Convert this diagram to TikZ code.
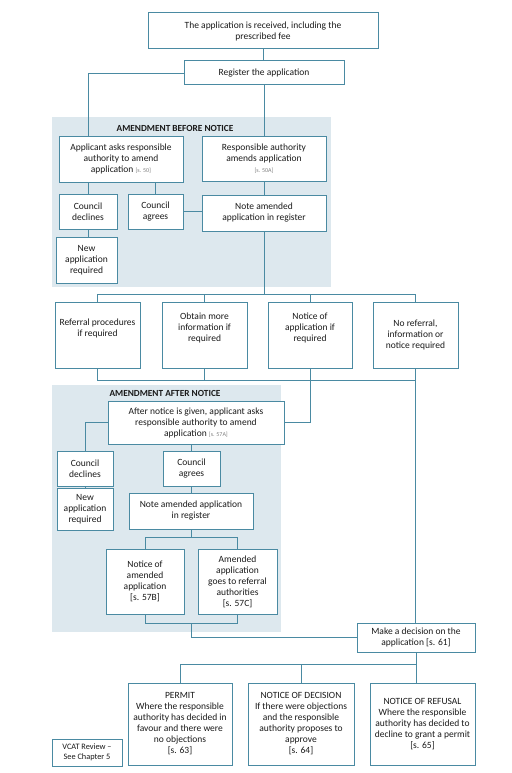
\documentclass[tikz,border=0pt]{standalone}
\usepackage{fontspec}
\setmainfont{Carlito}
\definecolor{bc}{HTML}{4A8AA2}
\definecolor{shadebg}{HTML}{DDE8EE}
\definecolor{txt}{HTML}{1A1A1A}
\definecolor{ref}{HTML}{808080}
\tikzset{
  box/.style={draw=bc, fill=white, line width=1pt, align=center, inner sep=1pt,
    text=txt, font=\fontsize{9.5}{11}\selectfont},
  ln/.style={draw=bc, line width=0.9pt},
  ttl/.style={font=\bfseries\fontsize{9.3}{10}\selectfont, text=txt},
}
\newcommand\sref[1]{{\fontsize{6}{6.5}\selectfont\color{ref}#1}}
\begin{document}
\begin{tikzpicture}[x=1pt,y=-1pt]
\useasboundingbox (0,0) rectangle (511,773);
% shaded regions
\fill[shadebg] (52,117) rectangle (331,287);
\fill[shadebg] (52,385) rectangle (281,632);
\node[ttl] (tA) at (175,128) {AMENDMENT BEFORE NOTICE};
\node[ttl] (tB) at (165,393) {AMENDMENT AFTER NOTICE};
% top
\node[box, minimum width=230, minimum height=36] (recv) at (263,31) {The application is received, including the\\prescribed fee};
\node[box, minimum width=160, minimum height=24] (reg) at (264,73) {Register the application};
% amendment before notice
\node[box, minimum width=124, minimum height=46] (applicant) at (121,159) {Applicant asks responsible\\authority to amend\\application \sref{[s. 50]}};
\node[box, minimum width=124, minimum height=45] (raamends) at (264,158.5) {Responsible authority\\amends application\\\sref{[s. 50A]}};
\node[box, minimum width=58, minimum height=35] (cdeclA) at (88,211.5) {Council\\declines};
\node[box, minimum width=55, minimum height=35] (cagreeA) at (155.5,211.5) {Council\\agrees};
\node[box, minimum width=124, minimum height=36] (noteA) at (264,213) {Note amended\\application in register};
\node[box, minimum width=61, minimum height=46] (newA) at (86.5,260) {New\\application\\required};
% middle row
\node[box, minimum width=85, minimum height=66] (referral) at (97.5,335) {Referral procedures\\if required\\[4pt]};
\node[box, minimum width=85, minimum height=66] (obtain) at (204.5,335) {Obtain more\\information if\\required\\[4pt]};
\node[box, minimum width=84, minimum height=66] (notice) at (310,335) {Notice of\\application if\\required\\[4pt]};
\node[box, minimum width=85, minimum height=66] (noref) at (415.5,335) {No referral,\\information or\\notice required};
% amendment after notice
\node[box, minimum width=176, minimum height=43] (afterN) at (196,422.5) {After notice is given, applicant asks\\responsible authority to amend\\application \sref{[s. 57A]}};
\node[box, minimum width=56, minimum height=35] (cdeclB) at (85,468.5) {Council\\declines};
\node[box, minimum width=57, minimum height=35] (cagreeB) at (191.5,468.5) {Council\\agrees};
\node[box, minimum width=56, minimum height=42] (newB) at (85,509) {New\\application\\required};
\node[box, minimum width=124, minimum height=36] (noteB) at (191,511) {Note amended application\\in register};
\node[box, minimum width=78, minimum height=65] (noticeAm) at (145,581.5) {Notice of\\amended\\application\\{[s. 57B]}};
\node[box, minimum width=79, minimum height=65] (amendedRef) at (237.5,581.5) {Amended\\application\\goes to referral\\authorities\\{[s. 57C]}};
% decision
\node[box, minimum width=118, minimum height=29] (decide) at (416,637.5) {Make a decision on the\\application [s. 61]};
\node[box, minimum width=104, minimum height=82] (permit) at (180,724) {PERMIT\\Where the responsible\\authority has decided in\\favour and there were\\no objections\\{[s. 63]}};
\node[box, minimum width=106, minimum height=82] (nod) at (301,724) {NOTICE OF DECISION\\If there were objections\\and the responsible\\authority proposes to\\approve\\{[s. 64]}};
\node[box, minimum width=105, minimum height=82] (refusal) at (422.5,724) {NOTICE OF REFUSAL\\Where the responsible\\authority has decided to\\decline to grant a permit\\{[s. 65]}};
\node[box, minimum width=70, minimum height=27, font=\fontsize{8.3}{9.8}\selectfont] (vcat) at (87,752.5) {VCAT Review --\\See Chapter 5};
% bus coordinates
\coordinate (busA) at (0,294);
\coordinate (busB) at (0,380);
\coordinate (brA) at (0,537);
\coordinate (brB) at (0,623);
\coordinate (busC) at (0,664);
% connectors
\draw[ln] (recv.south) -- (recv.south |- reg.north);
\draw[ln] (reg.west) -| (applicant.north -| cdeclA.north);
\draw[ln] (reg.south) -- (reg.south |- raamends.north);
\draw[ln] (applicant.south -| cdeclA) -- (cdeclA.north);
\draw[ln] (applicant.south -| cagreeA) -- (cagreeA.north);
\draw[ln] (cdeclA.south) -- (cdeclA.south |- newA.north);
\draw[ln] (cagreeA.east) -- (cagreeA.east -| noteA.west);
\draw[ln] (raamends.south) -- (raamends.south |- noteA.north);
\draw[ln] (noteA.south) -- (noteA.south |- busA);
\draw[ln] (referral.north) -- (referral.north |- busA) -- (noref.north |- busA) -- (noref.north);
\draw[ln] (obtain.north) -- (obtain.north |- busA);
\draw[ln] (notice.north) -- (notice.north |- busA);
\draw[ln] (referral.south) -- (referral.south |- busB) -- (noref.south |- busB);
\draw[ln] (obtain.south) -- (obtain.south |- busB);
\draw[ln] (notice.south) |- (afterN.east);
\draw[ln] (noref.south) -- (noref.south |- decide.north);
\draw[ln] (afterN.west) -| (cdeclB.north);
\draw[ln] (afterN.south -| cagreeB) -- (cagreeB.north);
\draw[ln] (cdeclB.south) -- (newB.north);
\draw[ln] (cagreeB.south) -- (cagreeB.south |- noteB.north);
\draw[ln] (noteB.south) -- (noteB.south |- brA);
\draw[ln] (noticeAm.north) -- (noticeAm.north |- brA) -- (amendedRef.north |- brA) -- (amendedRef.north);
\draw[ln] (noticeAm.south) -- (noticeAm.south |- brB) -- (amendedRef.south |- brB) -- (amendedRef.south);
\draw[ln] (noteB.south |- brB) |- (decide.west);
\draw[ln] (decide.south) -- (decide.south |- busC);
\draw[ln] (permit.north) -- (permit.north |- busC) -- (decide.south |- busC) -- (decide.south |- refusal.north);
\draw[ln] (nod.north) -- (nod.north |- busC);
\end{tikzpicture}
\end{document}
